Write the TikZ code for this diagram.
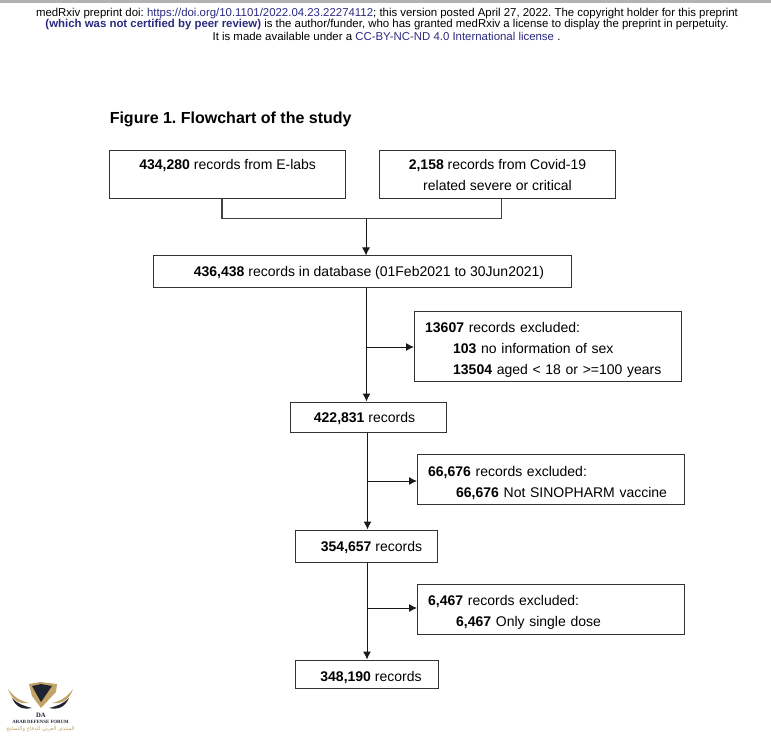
\documentclass[tikz,border=0pt]{standalone}
\usepackage{fontspec}
\usetikzlibrary{arrows.meta}
\setmainfont{Liberation Sans}
\newfontfamily\logofont{Liberation Serif}
\newfontfamily\arabicfont[Script=Arabic]{DejaVu Sans}
\TeXXeTstate=1
\frenchspacing
\definecolor{linkblue}{HTML}{2A2A80}
\definecolor{logogold}{HTML}{C2A468}
\definecolor{logodark}{HTML}{1F2430}
\newcommand{\nb}[1]{\textbf{#1}}
\begin{document}
\begin{tikzpicture}[x=0.75pt,y=-0.75pt]
        \tikzset{
        flow box/.style={draw=black!80,line width=0.75pt,inner sep=0,font=\fontsize{10.5}{15.75}\selectfont},
        flow text/.style={flow box,align=center},
        excl box/.style={flow box,align=left,anchor=west,text width=184pt,inner xsep=8pt},
        low/.style={execute at begin node={\rule{0pt}{#1}}},
        head line/.style={inner sep=0,font=\fontsize{8.56}{10}\selectfont},
        flow/.style={-{Latex[length=6pt,width=6pt]},line width=0.75pt,black!90},
        flow join/.style={-,line width=0.9pt,black!75},
        logo text/.style={inner sep=0,text=logodark}
        }
        \useasboundingbox (0,0) rectangle (771,736);
        \fill[black!30] (0,0) rectangle (771,3);
        % header of the preprint
        \node[head line] (head1) at (387,13.5) {medRxiv preprint doi: \textcolor{linkblue}{https://doi.org/10.1101/2022.04.23.22274112}; this version posted April 27, 2022. The copyright holder for this preprint};
        \node[head line] (head2) at (387,25) {\textcolor{linkblue}{\textbf{(which was not certified by peer review)}} is the author/funder, who has granted medRxiv a license to display the preprint in perpetuity.};
        \node[head line] (head3) at (386.5,36) {It is made available under a \textcolor{linkblue}{CC-BY-NC-ND 4.0 International license} .};
        \node[inner sep=0,anchor=west,font=\fontsize{12}{14}\bfseries] (title) at (109.5,119) {Figure 1. Flowchart of the study};

        % boxes
        \node[flow text,low=13pt,minimum width=177pt,minimum height=36pt] (lab) at (227.7,174.5) {\nb{434,280} records from E-labs\\ ~};
        \node[flow text,low=13pt,minimum width=177.7pt,minimum height=36pt] (covid) at (497.5,174.5) {\nb{2,158} records from Covid-19\\related severe or critical};
        \node[flow text,low=9pt,minimum width=314pt,minimum height=23.3pt] (db) at (362.5,271.5) {\hspace*{9.75pt}\nb{436,438} records in database (01Feb2021 to 30Jun2021)};
        \node[excl box,low=13.5pt,minimum height=52.5pt] (excl1) at (414,346.2) {\nb{13607} records excluded:\\\hspace*{21pt}\nb{103} no information of sex\\\hspace*{21pt}\nb{13504} aged < 18 or >=100 years};
        \node[flow text,low=10.5pt,minimum width=117pt,minimum height=22.5pt] (rec1) at (368,417) {\nb{422,831} records\hspace*{5.25pt}};
        \node[excl box,low=13.5pt,minimum height=36.8pt] (excl2) at (417,479.5) {\nb{66,676} records excluded:\\\hspace*{21pt}\nb{66,676} Not SINOPHARM vaccine};
        \node[flow text,low=10.5pt,minimum width=106pt,minimum height=24pt] (rec2) at (366.5,546) {\hspace*{7.5pt}\nb{354,657} records};
        \node[excl box,low=12pt,minimum height=37.5pt] (excl3) at (417,609) {\nb{6,467} records excluded:\\\hspace*{21pt}\nb{6,467} Only single dose};
        \node[flow text,low=13.5pt,minimum width=107pt,minimum height=21pt] (rec3) at (367,674) {\hspace*{6pt}\nb{348,190} records};

        \coordinate (stem1) at (222,198.5);
        \coordinate (stem2) at (501.5,198.5);
        \coordinate (join) at (366,218.5);
        \coordinate (trunk1) at (366.5,347);
        \coordinate (trunk2) at (367.5,481);
        \coordinate (trunk3) at (367,608);

        \draw[flow join] (stem1) |- (join) -| (stem2);
        \draw[flow] (join) -- (join |- db.north);
        \draw[flow] (trunk1 |- db.south) -- (trunk1 |- rec1.north);
        \draw[flow] (trunk1) -- (trunk1 -| excl1.west);
        \draw[flow] (trunk2 |- rec1.south) -- (trunk2 |- rec2.north);
        \draw[flow] (trunk2) -- (trunk2 -| excl2.west);
        \draw[flow] (trunk3 |- rec2.south) -- (trunk3 |- rec3.north);
        \draw[flow] (trunk3) -- (trunk3 -| excl3.west);

        % forum logo in the corner
        \fill[logogold] (29,684) -- (40,682) -- (57,684) -- (56,692) -- (41,708) -- (32,696) -- cycle;
        \fill[logodark] (32,686) -- (41,684) -- (52,686) -- (41,702) -- cycle;
        \fill[logogold] (8,689) .. controls (12,700) and (18,704) .. (29,703) .. controls (20,701) and (14,697) .. (8,689) -- cycle;
        \fill[logodark] (12,698) .. controls (16,707) and (22,710) .. (32,708) .. controls (24,706) and (18,704) .. (12,698) -- cycle;
        \fill[logogold] (73,689) .. controls (69,700) and (63,704) .. (52,703) .. controls (61,701) and (67,697) .. (73,689) -- cycle;
        \fill[logodark] (69,698) .. controls (65,707) and (59,710) .. (49,708) .. controls (57,706) and (63,704) .. (69,698) -- cycle;
        \node[logo text,font=\logofont\fontsize{5}{5}\bfseries] (logomark) at (41,715.5) {DA};
        \node[logo text,font=\logofont\fontsize{3.6}{4}\bfseries] (logoname) at (40.5,722) {ARAB DEFENSE FORUM};
        \node[logo text,text=logogold,font=\arabicfont\fontsize{4}{4}\selectfont] (logosub) at (40.5,729.5) {\beginR المنتدى العربي للدفاع والتسليح\endR};
\end{tikzpicture}
\end{document}
